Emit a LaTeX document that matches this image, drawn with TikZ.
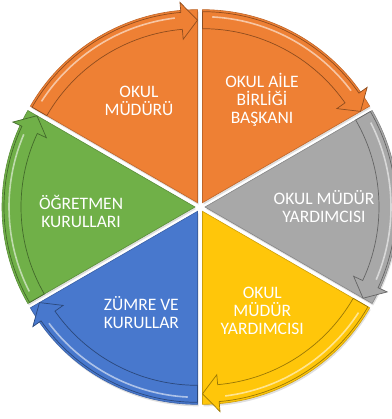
\documentclass[tikz,border=0pt]{standalone}
\usepackage{fontspec}
\setmainfont{Carlito}
\usepackage{tikz}
\usetikzlibrary{shadows}

\definecolor{okulorange}{RGB}{238,128,52}
\definecolor{okulgray}{RGB}{168,168,168}
\definecolor{okulyellow}{RGB}{255,198,10}
\definecolor{okulblue}{RGB}{72,120,205}
\definecolor{okulgreen}{RGB}{112,176,72}

\begin{document}
\begin{tikzpicture}[x=1pt,y=1pt,
	sector/.style={fill=#1, draw=#1!80!black, line width=0.6pt,
		drop shadow={opacity=0.25, shadow xshift=1pt, shadow yshift=-2pt}},
	band/.style={fill=#1, draw=#1!60!black, line width=0.7pt},
	shine/.style={draw=#1!45!white, line width=1.6pt},
	sectortext/.style={text=white, align=center, inner sep=1pt, font=\fontsize{17.5}{18}\selectfont}]
	\useasboundingbox (-200,-212) rectangle (191,207);

	% okul mudurus
	\begin{scope}[shift={(120:5)}]
		\path[sector=okulorange] (0,0) -- (150:193) arc[start angle=150, end angle=90, radius=193] -- cycle;
		\path[band=okulorange] (150:191) arc[start angle=150, end angle=95, radius=191] -- (95:201) -- (90:182.5) -- (95:164) -- (95:174) arc[start angle=95, end angle=150, radius=174] -- cycle;
		\path[shine=okulorange] (147:186) arc[start angle=147, end angle=97, radius=186];
	\end{scope}
	% okul aile birligi
	\begin{scope}[shift={(60:5)}]
		\path[sector=okulorange] (0,0) -- (90:193) arc[start angle=90, end angle=30, radius=193] -- cycle;
		\path[band=okulorange] (90:191) arc[start angle=90, end angle=35, radius=191] -- (35:201) -- (30:182.5) -- (35:164) -- (35:174) arc[start angle=35, end angle=90, radius=174] -- cycle;
		\path[shine=okulorange] (87:186) arc[start angle=87, end angle=37, radius=186];
	\end{scope}
	% mudur yardimcisi (gri)
	\begin{scope}[shift={(0:5)}]
		\path[sector=okulgray] (0,0) -- (30:193) arc[start angle=30, end angle=-30, radius=193] -- cycle;
		\path[band=okulgray] (30:191) arc[start angle=30, end angle=-25, radius=191] -- (-25:201) -- (-30:182.5) -- (-25:164) -- (-25:174) arc[start angle=-25, end angle=30, radius=174] -- cycle;
		\path[shine=okulgray] (27:186) arc[start angle=27, end angle=-23, radius=186];
	\end{scope}
	% mudur yardimcisi (sari)
	\begin{scope}[shift={(-60:5)}]
		\path[sector=okulyellow] (0,0) -- (-30:193) arc[start angle=-30, end angle=-90, radius=193] -- cycle;
		\path[band=okulyellow] (-30:191) arc[start angle=-30, end angle=-85, radius=191] -- (-85:201) -- (-90:182.5) -- (-85:164) -- (-85:174) arc[start angle=-85, end angle=-30, radius=174] -- cycle;
		\path[shine=okulyellow] (-33:186) arc[start angle=-33, end angle=-83, radius=186];
	\end{scope}
	% zumre
	\begin{scope}[shift={(-120:5)}]
		\path[sector=okulblue] (0,0) -- (-90:193) arc[start angle=-90, end angle=-150, radius=193] -- cycle;
		\path[band=okulblue] (-90:191) arc[start angle=-90, end angle=-145, radius=191] -- (-145:201) -- (-150:182.5) -- (-145:164) -- (-145:174) arc[start angle=-145, end angle=-90, radius=174] -- cycle;
		\path[shine=okulblue] (-93:186) arc[start angle=-93, end angle=-143, radius=186];
	\end{scope}
	% ogretmen kurullari
	\begin{scope}[shift={(180:5)}]
		\path[sector=okulgreen] (0,0) -- (210:193) arc[start angle=210, end angle=150, radius=193] -- cycle;
		\path[band=okulgreen] (210:191) arc[start angle=210, end angle=155, radius=191] -- (155:201) -- (150:182.5) -- (155:164) -- (155:174) arc[start angle=155, end angle=210, radius=174] -- cycle;
		\path[shine=okulgreen] (207:186) arc[start angle=207, end angle=157, radius=186];
	\end{scope}

	\path (120:122) node (mudur) [sectortext] {OKUL\\MÜDÜRÜ}
		  (60:124) node (aile) [sectortext] {OKUL AİLE\\BİRLİĞİ\\BAŞKANI}
		  (0:124) node (yardimci1) [sectortext] {OKUL MÜDÜR\\YARDIMCISI}
		  (-59:121) node (yardimci2) [sectortext] {OKUL\\MÜDÜR\\YARDIMCISI}
		  (-119:121) node (zumre) [sectortext] {ZÜMRE VE\\KURULLAR}
		  (182:119) node (ogretmen) [sectortext] {ÖĞRETMEN\\KURULLARI};
\end{tikzpicture}
\end{document}
